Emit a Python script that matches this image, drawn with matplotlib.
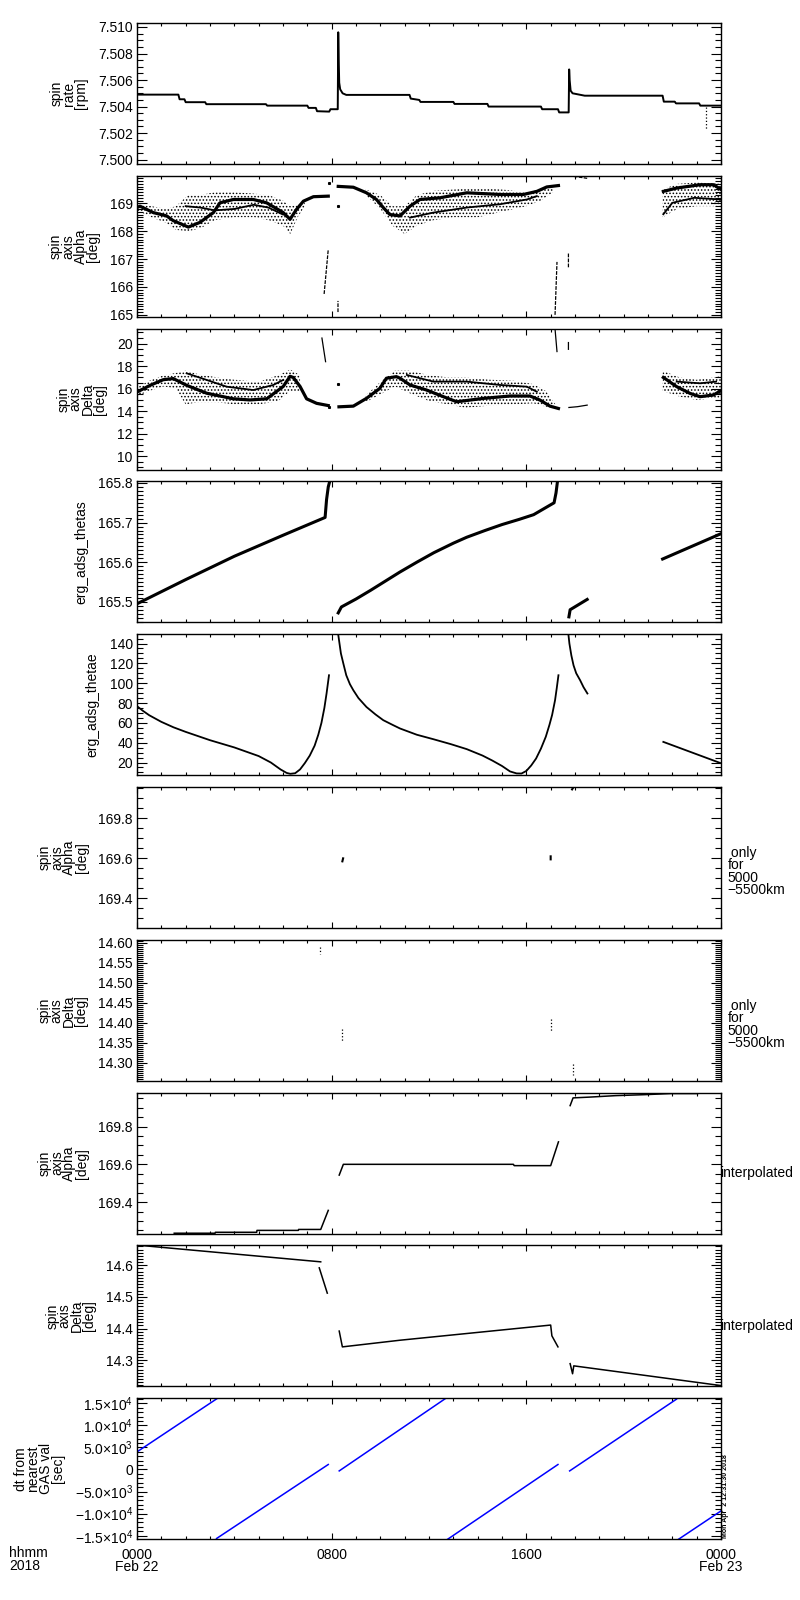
import numpy as np
import matplotlib
matplotlib.use('Agg')
import matplotlib.pyplot as plt
from matplotlib.ticker import MultipleLocator, AutoMinorLocator, FormatStrFormatter

nan = np.nan

# time axis in hours from 2018-02-22 00:00

# panel 1: spin rate [rpm]
rate_t = [0.0, 1.7, 1.75, 1.95, 2.0, 2.8, 2.85, 5.3, 5.35, 7.0, 7.05, 7.35, 7.4, 7.9, 7.95, 8.25,
          8.27, 8.29, 8.31, 8.35, 8.45, 8.6, 11.2, 11.25, 11.6, 11.65, 13.0, 13.05, 14.4, 14.45, 16.6, 16.65, 17.3, 17.35, 17.74,
          17.76, 17.78, 17.82, 17.9, 18.4, 21.6, 21.65, 22.1, 22.15, 23.1, 23.15, 24.0]
rate_v = [7.5049, 7.5049, 7.50455, 7.50455, 7.50433, 7.50433, 7.50418, 7.50418, 7.50407, 7.50407, 7.5039, 7.5039, 7.50365, 7.50362, 7.5038, 7.5038,
          7.5096, 7.5075, 7.5058, 7.5053, 7.5050, 7.50488, 7.50488, 7.5046, 7.5045, 7.50435, 7.50435, 7.5042, 7.5042, 7.5040, 7.5040, 7.5038, 7.5038, 7.50356, 7.50356,
          7.5068, 7.5060, 7.5052, 7.5050, 7.50482, 7.50482, 7.50437, 7.50437, 7.50424, 7.50424, 7.50407, 7.50407]
rate_drop_t = [23.4, 23.4]
rate_drop_v = [7.5040, 7.5023]

# panel 2: spin axis alpha [deg]
alpha_t = [0.0, 0.12, 0.67, 1.22, 1.49, 2.11, 2.59, 3.14, 3.41, 3.96, 4.78, 5.33, 6.01, 6.29, 6.56, 6.84, 7.25, 7.86, nan,
           8.27, 8.89, 9.43, 9.84, 10.12, 10.39, 10.81, 11.22, 11.63, 12.45, 13.55, 14.92, 15.88, 16.43, 16.84, 17.32, nan,
           21.63, 22.18, 23.14, 23.69, 24.0]
alpha_v = [168.85, 168.9, 168.67, 168.55, 168.38, 168.15, 168.32, 168.67, 169.02, 169.14, 169.14, 169.02, 168.67, 168.43, 168.79, 169.08, 169.24, 169.26, nan,
           169.61, 169.58, 169.38, 169.14, 168.85, 168.6, 168.55, 168.9, 169.14, 169.2, 169.38, 169.32, 169.32, 169.43, 169.59, 169.64, nan,
           169.43, 169.55, 169.67, 169.67, 169.5]
alpha_b_t = [2.0, 2.6, 3.2, 4.0, 4.8, 5.4, 6.0, nan, 11.22, 12.18, 13.55, 14.92, 16.02, 16.43, nan, 21.63, 22.0, 22.9, 24.0]
alpha_b_v = [168.9, 168.85, 168.75, 168.8, 168.95, 168.85, 168.6, nan, 168.49, 168.67, 168.85, 168.97, 169.14, 169.26, nan, 168.61, 169.02, 169.2, 169.14]
alpha_env_t = [0.0, 0.6, 1.2, 1.6, 2.1, 2.6, 3.2, 4.0, 4.8, 5.4, 6.0, 6.3, 6.6, 6.9, nan,
               9.4, 10.0, 10.5, 11.0, 11.5, 12.2, 13.0, 14.0, 15.0, 16.0, 16.6, 17.1, nan,
               21.6, 22.2, 23.0, 24.0]
alpha_lo = [168.75, 168.5, 168.3, 168.05, 168.0, 168.1, 168.4, 168.5, 168.5, 168.4, 168.2, 167.9, 168.5, 168.9, nan,
            169.3, 168.8, 168.2, 167.9, 168.2, 168.4, 168.5, 168.5, 168.7, 168.9, 169.1, 169.4, nan,
            168.5, 168.8, 168.9, 168.9]
alpha_hi = [169.0, 168.9, 168.8, 168.9, 169.3, 169.3, 169.4, 169.4, 169.35, 169.3, 169.1, 168.9, 168.95, 169.1, nan,
            169.5, 169.3, 168.9, 168.9, 169.3, 169.45, 169.5, 169.55, 169.5, 169.4, 169.5, 169.6, nan,
            169.5, 169.7, 169.75, 169.7]
alpha_x_t = [7.69, 7.86, nan, 8.26, 8.26, nan, 17.18, 17.26, nan, 17.73, 17.73, nan, 17.95, 18.5]
alpha_x_v = [165.75, 167.35, nan, 165.1, 165.5, nan, 165.0, 166.9, nan, 167.2, 166.7, nan, 169.97, 169.9]
alpha_dot_t = [7.9, 8.26]
alpha_dot_v = [169.72, 168.9]

# panel 3: spin axis delta [deg]
delta_t = [0.0, 0.54, 1.08, 1.49, 2.04, 2.86, 3.96, 4.64, 5.33, 6.01, 6.29, 6.42, 6.7, 6.97, 7.38, 7.86, nan,
           8.3, 8.89, 9.43, 9.98, 10.25, 10.66, 10.81, 11.22, 11.9, 12.59, 13.14, 14.24, 15.33, 16.15, 16.56, 16.97, 17.32, nan,
           21.63, 22.18, 22.73, 23.14, 23.69, 24.0]
delta_v = [15.7, 16.3, 16.8, 16.9, 16.3, 15.6, 15.1, 15.0, 15.1, 16.2, 17.1, 17.0, 16.2, 15.1, 14.7, 14.5, nan,
           14.39, 14.45, 15.14, 16.03, 16.93, 17.07, 16.93, 16.33, 15.88, 15.29, 14.84, 15.14, 15.35, 15.35, 14.99, 14.45, 14.24, nan,
           17.0, 16.18, 15.58, 15.29, 15.44, 15.83]
delta_b_t = [2.04, 2.86, 3.68, 4.78, 5.6, 6.01, nan, 11.09, 12.18, 13.55, 14.92, 16.02, 16.43, nan, 22.18, 23.14, 23.8]
delta_b_v = [17.37, 16.78, 16.18, 15.88, 16.33, 16.78, nan, 17.22, 16.63, 16.63, 16.33, 16.18, 15.73, nan, 16.63, 16.48, 16.63]
delta_env_t = [0.0, 0.5, 1.1, 1.6, 2.0, 2.5, 3.3, 4.0, 5.0, 5.8, 6.3, 6.7, nan,
               9.4, 10.0, 10.6, 11.2, 12.0, 12.8, 13.5, 14.5, 15.5, 16.3, 16.8, 17.2, nan,
               21.6, 22.3, 23.0, 24.0]
delta_lo = [15.3, 15.8, 16.2, 16.0, 14.6, 14.8, 14.8, 14.6, 14.6, 14.9, 15.8, 15.8, nan,
            14.8, 15.5, 16.2, 15.6, 14.9, 14.6, 14.3, 14.5, 14.6, 14.7, 14.4, 14.3, nan,
            15.8, 15.3, 15.0, 15.2]
delta_hi = [16.1, 16.7, 17.2, 17.4, 17.6, 17.3, 17.0, 16.8, 16.6, 17.2, 17.7, 17.2, nan,
            15.4, 16.6, 17.6, 17.6, 17.2, 17.0, 17.0, 16.8, 16.7, 16.4, 15.8, 14.6, nan,
            17.6, 17.0, 16.8, 17.1]
delta_x_t = [7.6, 7.75, nan, 17.18, 17.26, nan, 17.73, 17.73, nan, 17.75, 18.1, 18.5]
delta_x_v = [20.5, 18.4, nan, 21.3, 19.3, nan, 20.1, 19.5, nan, 14.33, 14.4, 14.54]
delta_dot_t = [7.9, 8.26]
delta_dot_v = [14.4, 16.4]

# panel 4: erg_adsg_thetas
thetas_t = [0.0, 2.0, 4.0, 6.0, 7.73, 7.79, 7.86, 7.92, nan,
            8.27, 8.4, 9.0, 9.6, 10.2, 10.8, 11.5, 12.2, 13.0, 13.55, 14.3, 15.0, 15.7, 16.3, 17.14, 17.22, 17.28, nan,
            17.75, 17.8, 18.5, nan, 21.6, 24.0]
thetas_v = [165.495, 165.556, 165.615, 165.668, 165.713, 165.758, 165.79, 165.804, nan,
            165.472, 165.487, 165.507, 165.529, 165.552, 165.575, 165.6, 165.624, 165.648, 165.663, 165.68, 165.695, 165.708, 165.72, 165.75, 165.775, 165.804, nan,
            165.462, 165.48, 165.506, nan, 165.608, 165.672]

# panel 5: erg_adsg_thetae
thetae_t = [0.0, 0.25, 0.5, 1.0, 1.5, 2.0, 3.0, 4.0, 5.0, 5.5, 5.9, 6.15, 6.3, 6.5, 6.7, 6.9, 7.1, 7.3, 7.45, 7.58, 7.7, 7.79, 7.89, nan,
            8.27, 8.31, 8.38, 8.48, 8.6, 8.75, 8.89, 9.1, 9.43, 9.8, 10.12, 10.5, 10.81, 11.5, 12.18, 12.9, 13.55, 14.2, 14.6, 15.0,
            15.33, 15.6, 15.8, 16.0, 16.2, 16.4, 16.6, 16.8, 16.95, 17.06, 17.18, 17.25, 17.32, nan,
            17.73, 17.77, 17.85, 17.94, 18.05, 18.21, 18.35, 18.51, nan, 21.63, 23.96]
thetae_v = [76.8, 72.0, 67.7, 61.0, 55.5, 50.9, 42.5, 35.2, 26.5, 20.0, 13.0, 9.5, 8.6, 9.2, 13.0, 19.5, 27.0, 37.0, 48.0, 60.0, 75.0, 89.6, 108.0, nan,
            149.0, 142.0, 130.0, 119.8, 108.0, 99.0, 92.9, 85.0, 76.0, 68.5, 62.7, 58.0, 54.3, 48.0, 43.5, 38.5, 33.5, 27.0, 22.0, 16.5,
            11.0, 9.0, 8.9, 11.5, 17.0, 24.0, 34.0, 46.0, 58.0, 68.0, 82.8, 95.0, 108.0, nan,
            149.0, 140.0, 128.0, 118.0, 110.0, 103.0, 96.0, 89.6, nan, 40.8, 19.6]

# panels 6, 7: alpha / delta only for 5000-5500 km
a55_t = [8.44, 8.47, nan, 17.0, 17.0, nan, 17.88, 17.93]
a55_v = [169.585, 169.60, nan, 169.595, 169.61, nan, 169.945, 169.955]
d55_t = [7.52, 7.52, nan, 8.44, 8.44, nan, 17.0, 17.0, nan, 17.9, 17.9]
d55_v = [14.59, 14.572, nan, 14.386, 14.352, nan, 14.41, 14.378, nan, 14.298, 14.27]

# panels 8, 9: interpolated alpha / delta
ai_t = [1.53, 3.21, 3.22, 4.92, 4.93, 6.63, 6.64, 7.55, 7.86, nan,
        8.31, 8.48, 15.47, 15.5, 17.0, 17.32, nan,
        17.8, 17.92, 18.58, 19.68, 20.84, 21.94, 23.04]
ai_v = [169.235, 169.235, 169.24, 169.24, 169.25, 169.25, 169.255, 169.255, 169.356, nan,
        169.543, 169.6, 169.6, 169.593, 169.593, 169.719, nan,
        169.911, 169.952, 169.956, 169.964, 169.969, 169.975, 169.975]
di_t = [0.0, 7.55, nan, 7.49, 7.82, nan, 8.31, 8.44, 10.8, 17.0, 17.05, 17.3, nan, 17.8, 17.9, 17.95, 23.96, 24.0]
di_v = [14.664, 14.611, nan, 14.592, 14.512, nan, 14.392, 14.342, 14.363, 14.411, 14.377, 14.342, nan, 14.289, 14.257, 14.282, 14.22, 14.219]

# panel 10: dt from nearest GAS val [sec]
dt_t = [0.0, 3.3, nan, 3.27, 7.86, nan, 8.31, 12.68, nan, 12.75, 17.3, nan, 17.78, 22.17, nan, 22.24, 24.0]
dt_v = [3990, 16100, nan, -15630, 1130, nan, -320, 16090, nan, -15860, 1130, nan, -320, 15930, nan, -15860, -9380]
dt_ticks = [-15000, -10000, -5000, 0, 5000, 10000, 15000]
dt_ticklabels = ['\u22121.5$\\times$10$^{4}$', '\u22121.0$\\times$10$^{4}$', '\u22125.0$\\times$10$^{3}$', '0',
                 '5.0$\\times$10$^{3}$', '1.0$\\times$10$^{4}$', '1.5$\\times$10$^{4}$']

x_ticks = [0, 8, 16, 24]
x_ticklabels = ['0000\nFeb 22', '0800', '1600', '0000\nFeb 23']

ylabels = ['spin\nrate\n[rpm]', 'spin\naxis\nAlpha\n[deg]', 'spin\naxis\nDelta\n[deg]',
           'erg_adsg_thetas', 'erg_adsg_thetae', 'spin\naxis\nAlpha\n[deg]', 'spin\naxis\nDelta\n[deg]',
           'spin\naxis\nAlpha\n[deg]', 'spin\naxis\nDelta\n[deg]', 'dt from\nnearest\nGAS val\n[sec]']
ylims = [(7.49967, 7.5103), (164.93, 169.99), (8.81, 21.34), (165.448, 165.804), (7.2, 149.4),
         (169.2515, 169.957), (14.2555, 14.6075), (169.233, 169.98), (14.217, 14.663), (-15790, 16150)]
ysteps = [0.002, 1, 2, 0.1, 20, 0.2, 0.05, 0.2, 0.1, None]
yminor = [4, 10, 4, 10, 4, 4, 10, 4, 10, 5]
yfmt = ['%.3f', '%d', '%d', '%.1f', '%d', '%.1f', '%.2f', '%.1f', '%.1f', None]

plt.rcParams['font.family'] = ['Liberation Sans', 'DejaVu Sans']
plt.rcParams['font.size'] = 10
plt.rcParams['mathtext.fontset'] = 'custom'
plt.rcParams['mathtext.rm'] = 'Liberation Sans'
plt.rcParams['mathtext.it'] = 'Liberation Sans:italic'
plt.rcParams['mathtext.bf'] = 'Liberation Sans:bold'
plt.rcParams['hatch.linewidth'] = 0.7

fig = plt.figure(figsize=(8, 16), dpi=100)
W, H = 800.0, 1600.0
axes = []
for i in range(10):
    top = 23 + i * 152.8
    ax = fig.add_axes([137 / W, 1 - (top + 141) / H, 584 / W, 141 / H])
    axes.append(ax)

k = 'black'


def cloud(ax, t, lo, hi):
    ax.fill_between(t, lo, hi, facecolor='none', edgecolor=k, hatch='.....', linewidth=0)


ax = axes[0]
ax.plot(rate_t, rate_v, color=k, lw=1.4)
ax.plot(rate_drop_t, rate_drop_v, color=k, lw=0.9, ls=':')

ax = axes[1]
cloud(ax, alpha_env_t, alpha_lo, alpha_hi)
ax.plot(alpha_t, alpha_v, color=k, lw=2.3)
ax.plot(alpha_b_t, alpha_b_v, color=k, lw=1.3)
ax.plot(alpha_x_t, alpha_x_v, color=k, lw=0.9, ls=(0, (3, 1)))
ax.plot(alpha_dot_t, alpha_dot_v, 's', color=k, ms=1.2)

ax = axes[2]
cloud(ax, delta_env_t, delta_lo, delta_hi)
ax.plot(delta_t, delta_v, color=k, lw=2.3)
ax.plot(delta_b_t, delta_b_v, color=k, lw=1.3)
ax.plot(delta_x_t, delta_x_v, color=k, lw=0.9)
ax.plot(delta_dot_t, delta_dot_v, 's', color=k, ms=1.2)

axes[3].plot(thetas_t, thetas_v, color=k, lw=2.2)
axes[4].plot(thetae_t, thetae_v, color=k, lw=1.3)
axes[5].plot(a55_t, a55_v, color=k, lw=1.5)
axes[6].plot(d55_t, d55_v, color=k, lw=0.9, ls=':')
axes[7].plot(ai_t, ai_v, color=k, lw=1.1)
axes[8].plot(di_t, di_v, color=k, lw=1.1)
axes[9].plot(dt_t, dt_v, color='#0000ff', lw=1.1)

for i, ax in enumerate(axes):
    ax.set_xlim(0, 24)
    ax.set_ylim(*ylims[i])
    ax.xaxis.set_major_locator(MultipleLocator(8))
    ax.xaxis.set_minor_locator(MultipleLocator(1))
    if ysteps[i] is not None:
        ax.yaxis.set_major_locator(MultipleLocator(ysteps[i]))
        ax.yaxis.set_major_formatter(FormatStrFormatter(yfmt[i]))
    else:
        ax.set_yticks(dt_ticks, dt_ticklabels)
    ax.yaxis.set_minor_locator(AutoMinorLocator(yminor[i]))
    ax.tick_params(which='both', direction='in', top=True, right=True, width=0.8, color=k)
    ax.tick_params(axis='x', which='major', length=4.0)
    ax.tick_params(axis='x', which='minor', length=2.3)
    ax.tick_params(axis='y', which='major', length=7.0, pad=3)
    ax.tick_params(axis='y', which='minor', length=4.0)
    for s in ax.spines.values():
        s.set_linewidth(1.0)
    ax.set_ylabel(ylabels[i], linespacing=0.85, labelpad=7, multialignment='center')
    if i < 9:
        ax.tick_params(axis='x', labelbottom=False)

axes[9].set_xticks(x_ticks, x_ticklabels)
axes[9].tick_params(axis='x', which='major', pad=6)
for lab in axes[9].get_xticklabels():
    lab.set_linespacing(0.9)

for i in (5, 6):
    axes[i].text(1.011, 0.40, ' only\nfor\n5000\n\u22125500km', transform=axes[i].transAxes,
                 ha='left', va='center', linespacing=0.85)
for i in (7, 8):
    axes[i].text(0.999, 0.43, 'interpolated', transform=axes[i].transAxes, ha='left', va='center')

fig.text(9 / W, 1 - 1546 / H, 'hhmm\n2018', ha='left', va='top', linespacing=0.9)
fig.text(722 / W, 1 - 1538 / H, 'Mon Apr  2 12:31:30 2018', rotation=90, ha='left', va='bottom',
         fontsize=5, fontweight='bold')

fig.savefig('out.png', dpi=100)
